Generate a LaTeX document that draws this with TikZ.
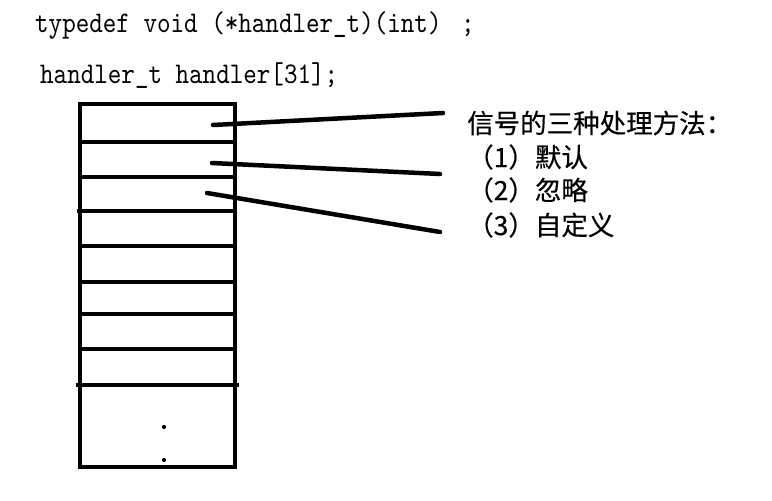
\documentclass[tikz,border=0pt]{standalone}
\usepackage{fontspec}
\newfontfamily\cjk{Noto Sans CJK SC}[FakeBold=0.4]
\newfontfamily\codefont{lmmono10-regular.otf}[FakeStretch=0.86]
\begin{document}
\begin{tikzpicture}[x=1pt,y=-1pt,
  codetext/.style={anchor=base west,inner sep=0pt,font=\codefont\fontsize{30}{34}\selectfont},
  cjktext/.style={anchor=west,inner sep=0pt,font=\cjk\fontsize{26.5}{30}\selectfont},
  cellline/.style={line width=4.5pt},
  pointer/.style={line width=4.5pt,line cap=round},
  dotmark/.style={circle,fill=black,inner sep=0pt,minimum size=4.2pt}]
\useasboundingbox (0,0) rectangle (772,501);
% code text
\node[codetext] (td) at (35,32) {typedef void (*handler\_t)(int)\hspace{6pt} ;};
\node[codetext] (arr) at (40,83) {handler\_t handler[31];};
% array box
\draw[cellline] (80,104) rectangle (235,467);
\draw[cellline] (80,142) -- (237,142);
\draw[cellline] (80,177) -- (235,177);
\draw[cellline] (77,211) -- (235,211);
\draw[cellline] (80,246) -- (237,246);
\draw[cellline] (80,282) -- (235,282);
\draw[cellline] (80,314) -- (235,314);
\draw[cellline] (80,349) -- (235,349);
\draw[cellline] (76,385) -- (239,385);
\node[dotmark] (d1) at (164,427) {};
\node[dotmark] (d2) at (164,460) {};
% explanation text
\node[cjktext] (t0) at (467,123) {信号的三种处理方法：};
\node[cjktext] (t1) at (467,157) {（1）默认};
\node[cjktext] (t2) at (467,190) {（2）忽略};
\node[cjktext] (t3) at (467,225) {（3）自定义};
% pointers
\coordinate (s1) at (213,125);
\coordinate (e1) at (443,113);
\coordinate (s2) at (212,163);
\coordinate (e2) at (440,174);
\coordinate (s3) at (207,193);
\coordinate (e3) at (440,232);
\draw[pointer] (s1) -- (e1);
\draw[pointer] (s2) -- (e2);
\draw[pointer] (s3) -- (e3);
\end{tikzpicture}
\end{document}
